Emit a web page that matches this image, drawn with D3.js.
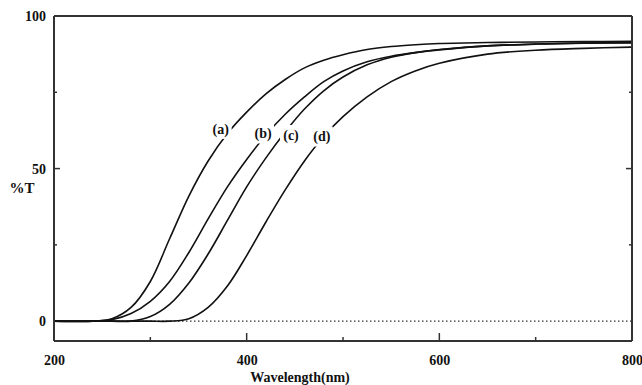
<!DOCTYPE html>
<html>
<head>
<meta charset="utf-8">
<script src="https://cdn.jsdelivr.net/npm/d3@7"></script>
<style>
  body { margin: 0; background: #fff; }
  text { font-family: "Liberation Serif", "Times New Roman", serif; font-weight: bold; fill: #111; }
</style>
</head>
<body>
<main></main>
<script>
// %T vs wavelength, four samples

const wavelength = [200, 240, 260, 280, 300, 320, 340, 360, 380, 400, 420, 440, 460, 480, 500, 525, 550, 575, 600, 650, 700, 750, 800];
const seriesA = [0, 0, 0.8, 4.5, 13, 27, 41, 52.5, 61.5, 68.5, 74.5, 79.2, 83, 85.5, 87.3, 89, 90, 90.6, 91, 91.3, 91.5, 91.6, 91.7];
const seriesB = [0, 0, 0.5, 2.5, 6.5, 13, 22.5, 33.5, 44, 53, 61, 67.8, 73.5, 78.5, 82, 85, 86.8, 88, 88.9, 90.2, 90.8, 91.1, 91.2];
const seriesC = [0, 0, 0, 0, 1.5, 5.5, 12.5, 22, 33, 44, 53.5, 62, 69.5, 75.5, 80, 84, 86.5, 88, 89, 90.2, 90.8, 91.1, 91.3];
const seriesD = [0, 0, 0, 0, 0, 0, 0.8, 4.5, 11.5, 21.5, 32.5, 43, 52.5, 60.5, 67, 73.5, 78.5, 82, 84.5, 87.5, 88.8, 89.4, 89.8];
const seriesNames = ["(a)", "(b)", "(c)", "(d)"];
const labelWl = [373, 417, 446, 478];
const labelT = [63, 61.5, 61, 60.5];

const xTicks = [200, 400, 600, 800];
const xMinor = [300, 500, 700];
const yTicks = [0, 50, 100];
const yMinor = [25, 75];

const w = 642, h = 385;
const mLeft = 54, mRight = 632, mTop = 16, mBottom = 341;

const svg = d3.select("main").append("svg").attr("width", w).attr("height", h);

const x = d3.scaleLinear().domain([200, 800]).range([mLeft, mRight]);
const y = d3.scaleLinear().domain([-6.5, 100]).range([mBottom, mTop]);

// dotted zero line
svg.append("line")
   .attr("x1", x(200)).attr("x2", x(800))
   .attr("y1", y(0)).attr("y2", y(0))
   .attr("stroke", "#333").attr("stroke-width", 1.2)
   .attr("stroke-dasharray", "1.5,2.5");

// curves
const line = d3.line()
  .x((d, i) => x(wavelength[i]))
  .y(d => y(Math.max(0, d)))
  .curve(d3.curveCatmullRom.alpha(0.5));

const series = [seriesA, seriesB, seriesC, seriesD];
svg.append("g").selectAll("path")
   .data(series).enter().append("path")
   .attr("d", line)
   .attr("fill", "none")
   .attr("stroke", "#111")
   .attr("stroke-width", 1.6);

// labels (with white knockout, like the original)
const lab = svg.append("g").selectAll("g")
   .data(seriesNames).enter().append("g")
   .attr("transform", (d, i) => "translate(" + x(labelWl[i]) + "," + y(labelT[i]) + ")");
lab.append("rect")
   .attr("x", -11).attr("y", -10).attr("width", 22).attr("height", 20)
   .attr("fill", "#fff");
lab.append("text")
   .attr("text-anchor", "middle").attr("dy", "0.35em")
   .style("font-size", "14px")
   .text(d => d);

// frame
const frame = svg.append("g");
frame.append("line").attr("x1", mLeft).attr("x2", mLeft).attr("y1", mTop).attr("y2", mBottom);
frame.append("line").attr("x1", mRight).attr("x2", mRight).attr("y1", mTop).attr("y2", mBottom);
frame.append("line").attr("x1", mLeft).attr("x2", mRight).attr("y1", mTop).attr("y2", mTop);
frame.append("line").attr("x1", mLeft).attr("x2", mRight).attr("y1", mBottom).attr("y2", mBottom);
frame.selectAll("line").attr("stroke", "#333").attr("stroke-width", 2);

// x ticks
const xAxis = d3.axisBottom(x).tickValues(xTicks).tickSize(0).tickPadding(14);
const gx = svg.append("g").attr("transform", "translate(0," + mBottom + ")").call(xAxis);
gx.select(".domain").remove();
gx.selectAll("text").style("font-size", "14px").attr("fill", "#111");

svg.append("g").selectAll("line")
   .data(xTicks.slice(1, -1).map(v => ({v: v, len: 8})).concat(xMinor.map(v => ({v: v, len: 4}))))
   .enter().append("line")
   .attr("x1", d => x(d.v)).attr("x2", d => x(d.v))
   .attr("y1", mBottom).attr("y2", d => mBottom - d.len)
   .attr("stroke", "#333").attr("stroke-width", 1.5);

// y ticks
const yAxis = d3.axisLeft(y).tickValues(yTicks).tickSize(0).tickPadding(8);
const gy = svg.append("g").attr("transform", "translate(" + mLeft + ",0)").call(yAxis);
gy.select(".domain").remove();
gy.selectAll("text").style("font-size", "14px").attr("fill", "#111");

const yTickMarks = [{v: 50, len: 6}].concat(yMinor.map(v => ({v: v, len: 3})));
svg.append("g").selectAll("line")
   .data(yTickMarks).enter().append("line")
   .attr("x1", mLeft).attr("x2", d => mLeft + d.len)
   .attr("y1", d => y(d.v)).attr("y2", d => y(d.v))
   .attr("stroke", "#333").attr("stroke-width", 1.5);
svg.append("g").selectAll("line")
   .data(yTickMarks).enter().append("line")
   .attr("x1", mRight).attr("x2", d => mRight - d.len)
   .attr("y1", d => y(d.v)).attr("y2", d => y(d.v))
   .attr("stroke", "#333").attr("stroke-width", 1.5);

// axis titles
svg.append("text")
   .attr("x", 22).attr("y", y(50) + 24)
   .attr("text-anchor", "middle")
   .style("font-size", "15px")
   .text("%T");

svg.append("text")
   .attr("x", 300).attr("y", 382)
   .attr("text-anchor", "middle")
   .style("font-size", "14px")
   .text("Wavelength(nm)");
</script>
</body>
</html>
